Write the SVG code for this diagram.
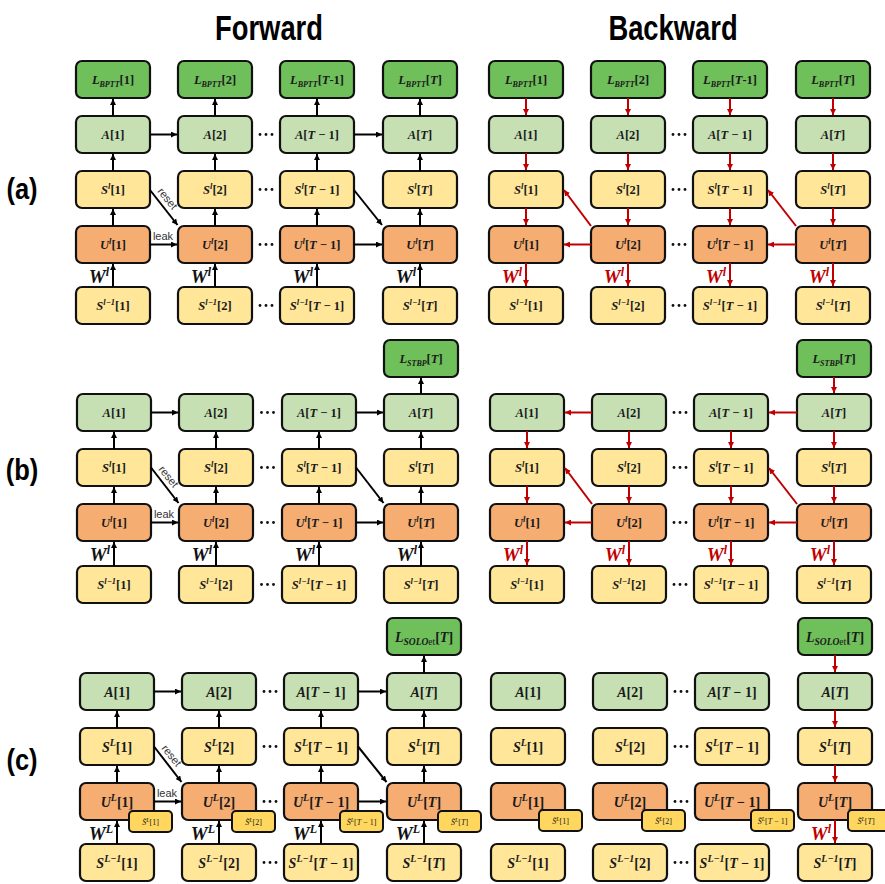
<svg xmlns="http://www.w3.org/2000/svg" xmlns:xlink="http://www.w3.org/1999/xlink" width="885" height="884" viewBox="0 0 885 884">
<style>
.L{fill:#6fbf5b;stroke:#111;stroke-width:2.2}
.A{fill:#c6e0b4;stroke:#111;stroke-width:2.2}
.S{fill:#ffe699;stroke:#111;stroke-width:2.2}
.U{fill:#f5ad72;stroke:#111;stroke-width:2.2}
.M{fill:#ffd75e;stroke:#111;stroke-width:2}
.t{font-family:"Liberation Serif","DejaVu Serif",serif;font-weight:bold;font-size:12.5px;text-anchor:middle;fill:#1a1a1a}
.tc{font-size:14px}
.ts{font-size:8px;font-weight:normal}
.i{font-style:italic}
.s{font-size:8px;font-style:italic}
.p{font-size:8.5px;font-style:italic}
.sc{font-size:9.5px;font-style:italic}
.pc{font-size:10px;font-style:italic}
.q{font-size:6px;font-style:italic}
.n{font-style:normal;font-weight:normal}
.k{stroke:#000;stroke-width:2;fill:none;marker-end:url(#hk)}
.r{stroke:#c00000;stroke-width:2;fill:none;marker-end:url(#hr)}
.w{font-family:"Liberation Serif","DejaVu Serif",serif;font-weight:bold;font-style:italic;font-size:19px;text-anchor:end;fill:#111}
.wr{fill:#c00000}
.sw{font-size:12px}
.lab{font-family:"Liberation Sans",Arial,sans-serif;font-size:11px;fill:#333;text-anchor:middle}
.h{font-family:"Liberation Sans",Arial,sans-serif;font-weight:bold;text-anchor:middle;fill:#000}
.dt{fill:#111}
</style>
<defs>
<marker id="hk" viewBox="0 0 10 10" refX="10" refY="5" markerWidth="6" markerHeight="6" markerUnits="userSpaceOnUse" orient="auto"><path d="M0,0L10,5L0,10z" fill="#000"/></marker>
<marker id="hr" viewBox="0 0 10 10" refX="10" refY="5" markerWidth="6" markerHeight="6" markerUnits="userSpaceOnUse" orient="auto"><path d="M0,0L10,5L0,10z" fill="#c00000"/></marker>
<g id="dd" class="dt"><circle cx="-6" cy="0" r="1.4"/><circle cx="0" cy="0" r="1.4"/><circle cx="6" cy="0" r="1.4"/></g>
</defs>
<rect width="885" height="884" fill="#fff"/>

<g id="titles">
<text class="h" font-size="36" transform="translate(269,40) scale(0.76,1)">Forward</text>
<text class="h" font-size="36" transform="translate(673,40) scale(0.76,1)">Backward</text>
<text class="h" font-size="30" transform="translate(22,199) scale(0.85,1)">(a)</text>
<text class="h" font-size="30" transform="translate(22,480) scale(0.85,1)">(b)</text>
<text class="h" font-size="30" transform="translate(22,770) scale(0.85,1)">(c)</text>
</g>

<!-- ===== (a) forward ===== -->
<g id="af-L1"><rect class="L" x="76" y="61" width="74" height="37" rx="6"/><text class="t" x="113" y="84"><tspan class="i">L</tspan><tspan class="s" dy="3">BPTT</tspan><tspan dy="-3">[1]</tspan></text></g>
<g id="af-L2"><rect class="L" x="178" y="61" width="74" height="37" rx="6"/><text class="t" x="215" y="84"><tspan class="i">L</tspan><tspan class="s" dy="3">BPTT</tspan><tspan dy="-3">[2]</tspan></text></g>
<g id="af-L3"><rect class="L" x="280" y="61" width="74" height="37" rx="6"/><text class="t" x="317" y="84"><tspan class="i">L</tspan><tspan class="s" dy="3">BPTT</tspan><tspan dy="-3">[<tspan class="i">T</tspan>-1]</tspan></text></g>
<g id="af-L4"><rect class="L" x="383" y="61" width="74" height="37" rx="6"/><text class="t" x="420" y="84"><tspan class="i">L</tspan><tspan class="s" dy="3">BPTT</tspan><tspan dy="-3">[<tspan class="i">T</tspan>]</tspan></text></g>
<g id="af-A1"><rect class="A" x="76" y="116" width="74" height="37" rx="6"/><text class="t" x="113" y="139"><tspan class="i">A</tspan>[1]</text></g>
<g id="af-A2"><rect class="A" x="178" y="116" width="74" height="37" rx="6"/><text class="t" x="215" y="139"><tspan class="i">A</tspan>[2]</text></g>
<g id="af-A3"><rect class="A" x="280" y="116" width="74" height="37" rx="6"/><text class="t" x="317" y="139"><tspan class="i">A</tspan>[<tspan class="i">T</tspan> − 1]</text></g>
<g id="af-A4"><rect class="A" x="383" y="116" width="74" height="37" rx="6"/><text class="t" x="420" y="139"><tspan class="i">A</tspan>[<tspan class="i">T</tspan>]</text></g>
<g id="af-S1"><rect class="S" x="76" y="171" width="74" height="37" rx="6"/><text class="t" x="113" y="194"><tspan class="i">S</tspan><tspan class="p" dy="-5">l</tspan><tspan dy="5">[1]</tspan></text></g>
<g id="af-S2"><rect class="S" x="178" y="171" width="74" height="37" rx="6"/><text class="t" x="215" y="194"><tspan class="i">S</tspan><tspan class="p" dy="-5">l</tspan><tspan dy="5">[2]</tspan></text></g>
<g id="af-S3"><rect class="S" x="280" y="171" width="74" height="37" rx="6"/><text class="t" x="317" y="194"><tspan class="i">S</tspan><tspan class="p" dy="-5">l</tspan><tspan dy="5">[<tspan class="i">T</tspan> − 1]</tspan></text></g>
<g id="af-S4"><rect class="S" x="383" y="171" width="74" height="37" rx="6"/><text class="t" x="420" y="194"><tspan class="i">S</tspan><tspan class="p" dy="-5">l</tspan><tspan dy="5">[<tspan class="i">T</tspan>]</tspan></text></g>
<g id="af-U1"><rect class="U" x="76" y="226" width="74" height="37" rx="6"/><text class="t" x="113" y="249"><tspan class="i">U</tspan><tspan class="p" dy="-5">l</tspan><tspan dy="5">[1]</tspan></text></g>
<g id="af-U2"><rect class="U" x="178" y="226" width="74" height="37" rx="6"/><text class="t" x="215" y="249"><tspan class="i">U</tspan><tspan class="p" dy="-5">l</tspan><tspan dy="5">[2]</tspan></text></g>
<g id="af-U3"><rect class="U" x="280" y="226" width="74" height="37" rx="6"/><text class="t" x="317" y="249"><tspan class="i">U</tspan><tspan class="p" dy="-5">l</tspan><tspan dy="5">[<tspan class="i">T</tspan> − 1]</tspan></text></g>
<g id="af-U4"><rect class="U" x="383" y="226" width="74" height="37" rx="6"/><text class="t" x="420" y="249"><tspan class="i">U</tspan><tspan class="p" dy="-5">l</tspan><tspan dy="5">[<tspan class="i">T</tspan>]</tspan></text></g>
<g id="af-P1"><rect class="S" x="76" y="287" width="74" height="37" rx="6"/><text class="t" x="113" y="310"><tspan class="i">S</tspan><tspan class="p" dy="-5">l−1</tspan><tspan dy="5">[1]</tspan></text></g>
<g id="af-P2"><rect class="S" x="178" y="287" width="74" height="37" rx="6"/><text class="t" x="215" y="310"><tspan class="i">S</tspan><tspan class="p" dy="-5">l−1</tspan><tspan dy="5">[2]</tspan></text></g>
<g id="af-P3"><rect class="S" x="280" y="287" width="74" height="37" rx="6"/><text class="t" x="317" y="310"><tspan class="i">S</tspan><tspan class="p" dy="-5">l−1</tspan><tspan dy="5">[<tspan class="i">T</tspan> − 1]</tspan></text></g>
<g id="af-P4"><rect class="S" x="383" y="287" width="74" height="37" rx="6"/><text class="t" x="420" y="310"><tspan class="i">S</tspan><tspan class="p" dy="-5">l−1</tspan><tspan dy="5">[<tspan class="i">T</tspan>]</tspan></text></g>

<!-- ===== (a) backward ===== -->
<g id="ab-L1"><rect class="L" x="489" y="61" width="74" height="37" rx="6"/><text class="t" x="526" y="84"><tspan class="i">L</tspan><tspan class="s" dy="3">BPTT</tspan><tspan dy="-3">[1]</tspan></text></g>
<g id="ab-L2"><rect class="L" x="591" y="61" width="74" height="37" rx="6"/><text class="t" x="628" y="84"><tspan class="i">L</tspan><tspan class="s" dy="3">BPTT</tspan><tspan dy="-3">[2]</tspan></text></g>
<g id="ab-L3"><rect class="L" x="693" y="61" width="74" height="37" rx="6"/><text class="t" x="730" y="84"><tspan class="i">L</tspan><tspan class="s" dy="3">BPTT</tspan><tspan dy="-3">[<tspan class="i">T</tspan>-1]</tspan></text></g>
<g id="ab-L4"><rect class="L" x="796" y="61" width="74" height="37" rx="6"/><text class="t" x="833" y="84"><tspan class="i">L</tspan><tspan class="s" dy="3">BPTT</tspan><tspan dy="-3">[<tspan class="i">T</tspan>]</tspan></text></g>
<g id="ab-A1"><rect class="A" x="489" y="116" width="74" height="37" rx="6"/><text class="t" x="526" y="139"><tspan class="i">A</tspan>[1]</text></g>
<g id="ab-A2"><rect class="A" x="591" y="116" width="74" height="37" rx="6"/><text class="t" x="628" y="139"><tspan class="i">A</tspan>[2]</text></g>
<g id="ab-A3"><rect class="A" x="693" y="116" width="74" height="37" rx="6"/><text class="t" x="730" y="139"><tspan class="i">A</tspan>[<tspan class="i">T</tspan> − 1]</text></g>
<g id="ab-A4"><rect class="A" x="796" y="116" width="74" height="37" rx="6"/><text class="t" x="833" y="139"><tspan class="i">A</tspan>[<tspan class="i">T</tspan>]</text></g>
<g id="ab-S1"><rect class="S" x="489" y="171" width="74" height="37" rx="6"/><text class="t" x="526" y="194"><tspan class="i">S</tspan><tspan class="p" dy="-5">l</tspan><tspan dy="5">[1]</tspan></text></g>
<g id="ab-S2"><rect class="S" x="591" y="171" width="74" height="37" rx="6"/><text class="t" x="628" y="194"><tspan class="i">S</tspan><tspan class="p" dy="-5">l</tspan><tspan dy="5">[2]</tspan></text></g>
<g id="ab-S3"><rect class="S" x="693" y="171" width="74" height="37" rx="6"/><text class="t" x="730" y="194"><tspan class="i">S</tspan><tspan class="p" dy="-5">l</tspan><tspan dy="5">[<tspan class="i">T</tspan> − 1]</tspan></text></g>
<g id="ab-S4"><rect class="S" x="796" y="171" width="74" height="37" rx="6"/><text class="t" x="833" y="194"><tspan class="i">S</tspan><tspan class="p" dy="-5">l</tspan><tspan dy="5">[<tspan class="i">T</tspan>]</tspan></text></g>
<g id="ab-U1"><rect class="U" x="489" y="226" width="74" height="37" rx="6"/><text class="t" x="526" y="249"><tspan class="i">U</tspan><tspan class="p" dy="-5">l</tspan><tspan dy="5">[1]</tspan></text></g>
<g id="ab-U2"><rect class="U" x="591" y="226" width="74" height="37" rx="6"/><text class="t" x="628" y="249"><tspan class="i">U</tspan><tspan class="p" dy="-5">l</tspan><tspan dy="5">[2]</tspan></text></g>
<g id="ab-U3"><rect class="U" x="693" y="226" width="74" height="37" rx="6"/><text class="t" x="730" y="249"><tspan class="i">U</tspan><tspan class="p" dy="-5">l</tspan><tspan dy="5">[<tspan class="i">T</tspan> − 1]</tspan></text></g>
<g id="ab-U4"><rect class="U" x="796" y="226" width="74" height="37" rx="6"/><text class="t" x="833" y="249"><tspan class="i">U</tspan><tspan class="p" dy="-5">l</tspan><tspan dy="5">[<tspan class="i">T</tspan>]</tspan></text></g>
<g id="ab-P1"><rect class="S" x="489" y="287" width="74" height="37" rx="6"/><text class="t" x="526" y="310"><tspan class="i">S</tspan><tspan class="p" dy="-5">l−1</tspan><tspan dy="5">[1]</tspan></text></g>
<g id="ab-P2"><rect class="S" x="591" y="287" width="74" height="37" rx="6"/><text class="t" x="628" y="310"><tspan class="i">S</tspan><tspan class="p" dy="-5">l−1</tspan><tspan dy="5">[2]</tspan></text></g>
<g id="ab-P3"><rect class="S" x="693" y="287" width="74" height="37" rx="6"/><text class="t" x="730" y="310"><tspan class="i">S</tspan><tspan class="p" dy="-5">l−1</tspan><tspan dy="5">[<tspan class="i">T</tspan> − 1]</tspan></text></g>
<g id="ab-P4"><rect class="S" x="796" y="287" width="74" height="37" rx="6"/><text class="t" x="833" y="310"><tspan class="i">S</tspan><tspan class="p" dy="-5">l−1</tspan><tspan dy="5">[<tspan class="i">T</tspan>]</tspan></text></g>

<!-- ===== (b) forward ===== -->
<g id="bf-L4"><rect class="L" x="384" y="340" width="74" height="37" rx="6"/><text class="t" x="421" y="363"><tspan class="i">L</tspan><tspan class="s" dy="3">STBP</tspan><tspan dy="-3">[<tspan class="i">T</tspan>]</tspan></text></g>
<g id="bf-A1"><rect class="A" x="77" y="394" width="74" height="37" rx="6"/><text class="t" x="114" y="417"><tspan class="i">A</tspan>[1]</text></g>
<g id="bf-A2"><rect class="A" x="179" y="394" width="74" height="37" rx="6"/><text class="t" x="216" y="417"><tspan class="i">A</tspan>[2]</text></g>
<g id="bf-A3"><rect class="A" x="282" y="394" width="74" height="37" rx="6"/><text class="t" x="319" y="417"><tspan class="i">A</tspan>[<tspan class="i">T</tspan> − 1]</text></g>
<g id="bf-A4"><rect class="A" x="384" y="394" width="74" height="37" rx="6"/><text class="t" x="421" y="417"><tspan class="i">A</tspan>[<tspan class="i">T</tspan>]</text></g>
<g id="bf-S1"><rect class="S" x="77" y="449" width="74" height="37" rx="6"/><text class="t" x="114" y="472"><tspan class="i">S</tspan><tspan class="p" dy="-5">l</tspan><tspan dy="5">[1]</tspan></text></g>
<g id="bf-S2"><rect class="S" x="179" y="449" width="74" height="37" rx="6"/><text class="t" x="216" y="472"><tspan class="i">S</tspan><tspan class="p" dy="-5">l</tspan><tspan dy="5">[2]</tspan></text></g>
<g id="bf-S3"><rect class="S" x="282" y="449" width="74" height="37" rx="6"/><text class="t" x="319" y="472"><tspan class="i">S</tspan><tspan class="p" dy="-5">l</tspan><tspan dy="5">[<tspan class="i">T</tspan> − 1]</tspan></text></g>
<g id="bf-S4"><rect class="S" x="384" y="449" width="74" height="37" rx="6"/><text class="t" x="421" y="472"><tspan class="i">S</tspan><tspan class="p" dy="-5">l</tspan><tspan dy="5">[<tspan class="i">T</tspan>]</tspan></text></g>
<g id="bf-U1"><rect class="U" x="77" y="504" width="74" height="37" rx="6"/><text class="t" x="114" y="527"><tspan class="i">U</tspan><tspan class="p" dy="-5">l</tspan><tspan dy="5">[1]</tspan></text></g>
<g id="bf-U2"><rect class="U" x="179" y="504" width="74" height="37" rx="6"/><text class="t" x="216" y="527"><tspan class="i">U</tspan><tspan class="p" dy="-5">l</tspan><tspan dy="5">[2]</tspan></text></g>
<g id="bf-U3"><rect class="U" x="282" y="504" width="74" height="37" rx="6"/><text class="t" x="319" y="527"><tspan class="i">U</tspan><tspan class="p" dy="-5">l</tspan><tspan dy="5">[<tspan class="i">T</tspan> − 1]</tspan></text></g>
<g id="bf-U4"><rect class="U" x="384" y="504" width="74" height="37" rx="6"/><text class="t" x="421" y="527"><tspan class="i">U</tspan><tspan class="p" dy="-5">l</tspan><tspan dy="5">[<tspan class="i">T</tspan>]</tspan></text></g>
<g id="bf-P1"><rect class="S" x="77" y="566" width="74" height="37" rx="6"/><text class="t" x="114" y="589"><tspan class="i">S</tspan><tspan class="p" dy="-5">l−1</tspan><tspan dy="5">[1]</tspan></text></g>
<g id="bf-P2"><rect class="S" x="179" y="566" width="74" height="37" rx="6"/><text class="t" x="216" y="589"><tspan class="i">S</tspan><tspan class="p" dy="-5">l−1</tspan><tspan dy="5">[2]</tspan></text></g>
<g id="bf-P3"><rect class="S" x="282" y="566" width="74" height="37" rx="6"/><text class="t" x="319" y="589"><tspan class="i">S</tspan><tspan class="p" dy="-5">l−1</tspan><tspan dy="5">[<tspan class="i">T</tspan> − 1]</tspan></text></g>
<g id="bf-P4"><rect class="S" x="384" y="566" width="74" height="37" rx="6"/><text class="t" x="421" y="589"><tspan class="i">S</tspan><tspan class="p" dy="-5">l−1</tspan><tspan dy="5">[<tspan class="i">T</tspan>]</tspan></text></g>

<!-- ===== (b) backward ===== -->
<g id="bb-L4"><rect class="L" x="797" y="340" width="74" height="37" rx="6"/><text class="t" x="834" y="363"><tspan class="i">L</tspan><tspan class="s" dy="3">STBP</tspan><tspan dy="-3">[<tspan class="i">T</tspan>]</tspan></text></g>
<g id="bb-A1"><rect class="A" x="490" y="394" width="74" height="37" rx="6"/><text class="t" x="527" y="417"><tspan class="i">A</tspan>[1]</text></g>
<g id="bb-A2"><rect class="A" x="592" y="394" width="74" height="37" rx="6"/><text class="t" x="629" y="417"><tspan class="i">A</tspan>[2]</text></g>
<g id="bb-A3"><rect class="A" x="694" y="394" width="74" height="37" rx="6"/><text class="t" x="731" y="417"><tspan class="i">A</tspan>[<tspan class="i">T</tspan> − 1]</text></g>
<g id="bb-A4"><rect class="A" x="797" y="394" width="74" height="37" rx="6"/><text class="t" x="834" y="417"><tspan class="i">A</tspan>[<tspan class="i">T</tspan>]</text></g>
<g id="bb-S1"><rect class="S" x="490" y="449" width="74" height="37" rx="6"/><text class="t" x="527" y="472"><tspan class="i">S</tspan><tspan class="p" dy="-5">l</tspan><tspan dy="5">[1]</tspan></text></g>
<g id="bb-S2"><rect class="S" x="592" y="449" width="74" height="37" rx="6"/><text class="t" x="629" y="472"><tspan class="i">S</tspan><tspan class="p" dy="-5">l</tspan><tspan dy="5">[2]</tspan></text></g>
<g id="bb-S3"><rect class="S" x="694" y="449" width="74" height="37" rx="6"/><text class="t" x="731" y="472"><tspan class="i">S</tspan><tspan class="p" dy="-5">l</tspan><tspan dy="5">[<tspan class="i">T</tspan> − 1]</tspan></text></g>
<g id="bb-S4"><rect class="S" x="797" y="449" width="74" height="37" rx="6"/><text class="t" x="834" y="472"><tspan class="i">S</tspan><tspan class="p" dy="-5">l</tspan><tspan dy="5">[<tspan class="i">T</tspan>]</tspan></text></g>
<g id="bb-U1"><rect class="U" x="490" y="504" width="74" height="37" rx="6"/><text class="t" x="527" y="527"><tspan class="i">U</tspan><tspan class="p" dy="-5">l</tspan><tspan dy="5">[1]</tspan></text></g>
<g id="bb-U2"><rect class="U" x="592" y="504" width="74" height="37" rx="6"/><text class="t" x="629" y="527"><tspan class="i">U</tspan><tspan class="p" dy="-5">l</tspan><tspan dy="5">[2]</tspan></text></g>
<g id="bb-U3"><rect class="U" x="694" y="504" width="74" height="37" rx="6"/><text class="t" x="731" y="527"><tspan class="i">U</tspan><tspan class="p" dy="-5">l</tspan><tspan dy="5">[<tspan class="i">T</tspan> − 1]</tspan></text></g>
<g id="bb-U4"><rect class="U" x="797" y="504" width="74" height="37" rx="6"/><text class="t" x="834" y="527"><tspan class="i">U</tspan><tspan class="p" dy="-5">l</tspan><tspan dy="5">[<tspan class="i">T</tspan>]</tspan></text></g>
<g id="bb-P1"><rect class="S" x="490" y="566" width="74" height="37" rx="6"/><text class="t" x="527" y="589"><tspan class="i">S</tspan><tspan class="p" dy="-5">l−1</tspan><tspan dy="5">[1]</tspan></text></g>
<g id="bb-P2"><rect class="S" x="592" y="566" width="74" height="37" rx="6"/><text class="t" x="629" y="589"><tspan class="i">S</tspan><tspan class="p" dy="-5">l−1</tspan><tspan dy="5">[2]</tspan></text></g>
<g id="bb-P3"><rect class="S" x="694" y="566" width="74" height="37" rx="6"/><text class="t" x="731" y="589"><tspan class="i">S</tspan><tspan class="p" dy="-5">l−1</tspan><tspan dy="5">[<tspan class="i">T</tspan> − 1]</tspan></text></g>
<g id="bb-P4"><rect class="S" x="797" y="566" width="74" height="37" rx="6"/><text class="t" x="834" y="589"><tspan class="i">S</tspan><tspan class="p" dy="-5">l−1</tspan><tspan dy="5">[<tspan class="i">T</tspan>]</tspan></text></g>

<!-- ===== (c) forward ===== -->
<g id="cf-L4"><rect class="L" x="387" y="618" width="74" height="37" rx="6"/><text class="t tc" x="424" y="642"><tspan class="i">L</tspan><tspan class="sc" dy="3">SOLO<tspan class="n">et</tspan></tspan><tspan dy="-3">[<tspan class="i">T</tspan>]</tspan></text></g>
<g id="cf-A1"><rect class="A" x="80" y="673" width="74" height="37" rx="6"/><text class="t tc" x="117" y="697"><tspan class="i">A</tspan>[1]</text></g>
<g id="cf-A2"><rect class="A" x="182" y="673" width="74" height="37" rx="6"/><text class="t tc" x="219" y="697"><tspan class="i">A</tspan>[2]</text></g>
<g id="cf-A3"><rect class="A" x="284" y="673" width="74" height="37" rx="6"/><text class="t tc" x="321" y="697"><tspan class="i">A</tspan>[<tspan class="i">T</tspan> − 1]</text></g>
<g id="cf-A4"><rect class="A" x="387" y="673" width="74" height="37" rx="6"/><text class="t tc" x="424" y="697"><tspan class="i">A</tspan>[<tspan class="i">T</tspan>]</text></g>
<g id="cf-S1"><rect class="S" x="80" y="728" width="74" height="37" rx="6"/><text class="t tc" x="117" y="752"><tspan class="i">S</tspan><tspan class="pc" dy="-6">L</tspan><tspan dy="6">[1]</tspan></text></g>
<g id="cf-S2"><rect class="S" x="182" y="728" width="74" height="37" rx="6"/><text class="t tc" x="219" y="752"><tspan class="i">S</tspan><tspan class="pc" dy="-6">L</tspan><tspan dy="6">[2]</tspan></text></g>
<g id="cf-S3"><rect class="S" x="284" y="728" width="74" height="37" rx="6"/><text class="t tc" x="321" y="752"><tspan class="i">S</tspan><tspan class="pc" dy="-6">L</tspan><tspan dy="6">[<tspan class="i">T</tspan> − 1]</tspan></text></g>
<g id="cf-S4"><rect class="S" x="387" y="728" width="74" height="37" rx="6"/><text class="t tc" x="424" y="752"><tspan class="i">S</tspan><tspan class="pc" dy="-6">L</tspan><tspan dy="6">[<tspan class="i">T</tspan>]</tspan></text></g>
<g id="cf-U1"><rect class="U" x="80" y="783" width="74" height="37" rx="6"/><text class="t tc" x="117" y="807"><tspan class="i">U</tspan><tspan class="pc" dy="-6">L</tspan><tspan dy="6">[1]</tspan></text></g>
<g id="cf-U2"><rect class="U" x="182" y="783" width="74" height="37" rx="6"/><text class="t tc" x="219" y="807"><tspan class="i">U</tspan><tspan class="pc" dy="-6">L</tspan><tspan dy="6">[2]</tspan></text></g>
<g id="cf-U3"><rect class="U" x="284" y="783" width="74" height="37" rx="6"/><text class="t tc" x="321" y="807"><tspan class="i">U</tspan><tspan class="pc" dy="-6">L</tspan><tspan dy="6">[<tspan class="i">T</tspan> − 1]</tspan></text></g>
<g id="cf-U4"><rect class="U" x="387" y="783" width="74" height="37" rx="6"/><text class="t tc" x="424" y="807"><tspan class="i">U</tspan><tspan class="pc" dy="-6">L</tspan><tspan dy="6">[<tspan class="i">T</tspan>]</tspan></text></g>
<g id="cf-M1"><rect class="M" x="129" y="811" width="43" height="21" rx="4"/><text class="t ts" x="150.5" y="825"><tspan class="i">S̃</tspan><tspan class="q" dy="-3">L</tspan><tspan dy="3">[1]</tspan></text></g>
<g id="cf-M2"><rect class="M" x="232" y="811" width="43" height="21" rx="4"/><text class="t ts" x="253.5" y="825"><tspan class="i">S̃</tspan><tspan class="q" dy="-3">L</tspan><tspan dy="3">[2]</tspan></text></g>
<g id="cf-M3"><rect class="M" x="340" y="811" width="43" height="21" rx="4"/><text class="t ts" x="361.5" y="825"><tspan class="i">S̃</tspan><tspan class="q" dy="-3">L</tspan><tspan dy="3">[<tspan class="i">T</tspan> − 1]</tspan></text></g>
<g id="cf-M4"><rect class="M" x="438" y="811" width="43" height="21" rx="4"/><text class="t ts" x="459.5" y="825"><tspan class="i">S̃</tspan><tspan class="q" dy="-3">L</tspan><tspan dy="3">[<tspan class="i">T</tspan>]</tspan></text></g>
<g id="cf-P1"><rect class="S" x="80" y="844" width="74" height="37" rx="6"/><text class="t tc" x="117" y="868"><tspan class="i">S</tspan><tspan class="pc" dy="-6">L−1</tspan><tspan dy="6">[1]</tspan></text></g>
<g id="cf-P2"><rect class="S" x="182" y="844" width="74" height="37" rx="6"/><text class="t tc" x="219" y="868"><tspan class="i">S</tspan><tspan class="pc" dy="-6">L−1</tspan><tspan dy="6">[2]</tspan></text></g>
<g id="cf-P3"><rect class="S" x="284" y="844" width="74" height="37" rx="6"/><text class="t tc" x="321" y="868"><tspan class="i">S</tspan><tspan class="pc" dy="-6">L−1</tspan><tspan dy="6">[<tspan class="i">T</tspan> − 1]</tspan></text></g>
<g id="cf-P4"><rect class="S" x="387" y="844" width="74" height="37" rx="6"/><text class="t tc" x="424" y="868"><tspan class="i">S</tspan><tspan class="pc" dy="-6">L−1</tspan><tspan dy="6">[<tspan class="i">T</tspan>]</tspan></text></g>

<!-- ===== (c) backward ===== -->
<g id="cb-L4"><rect class="L" x="798" y="618" width="74" height="37" rx="6"/><text class="t tc" x="835" y="642"><tspan class="i">L</tspan><tspan class="sc" dy="3">SOLO<tspan class="n">et</tspan></tspan><tspan dy="-3">[<tspan class="i">T</tspan>]</tspan></text></g>
<g id="cb-A1"><rect class="A" x="491" y="673" width="74" height="37" rx="6"/><text class="t tc" x="528" y="697"><tspan class="i">A</tspan>[1]</text></g>
<g id="cb-A2"><rect class="A" x="593" y="673" width="74" height="37" rx="6"/><text class="t tc" x="630" y="697"><tspan class="i">A</tspan>[2]</text></g>
<g id="cb-A3"><rect class="A" x="695" y="673" width="74" height="37" rx="6"/><text class="t tc" x="732" y="697"><tspan class="i">A</tspan>[<tspan class="i">T</tspan> − 1]</text></g>
<g id="cb-A4"><rect class="A" x="798" y="673" width="74" height="37" rx="6"/><text class="t tc" x="835" y="697"><tspan class="i">A</tspan>[<tspan class="i">T</tspan>]</text></g>
<g id="cb-S1"><rect class="S" x="491" y="728" width="74" height="37" rx="6"/><text class="t tc" x="528" y="752"><tspan class="i">S</tspan><tspan class="pc" dy="-6">L</tspan><tspan dy="6">[1]</tspan></text></g>
<g id="cb-S2"><rect class="S" x="593" y="728" width="74" height="37" rx="6"/><text class="t tc" x="630" y="752"><tspan class="i">S</tspan><tspan class="pc" dy="-6">L</tspan><tspan dy="6">[2]</tspan></text></g>
<g id="cb-S3"><rect class="S" x="695" y="728" width="74" height="37" rx="6"/><text class="t tc" x="732" y="752"><tspan class="i">S</tspan><tspan class="pc" dy="-6">L</tspan><tspan dy="6">[<tspan class="i">T</tspan> − 1]</tspan></text></g>
<g id="cb-S4"><rect class="S" x="798" y="728" width="74" height="37" rx="6"/><text class="t tc" x="835" y="752"><tspan class="i">S</tspan><tspan class="pc" dy="-6">L</tspan><tspan dy="6">[<tspan class="i">T</tspan>]</tspan></text></g>
<g id="cb-U1"><rect class="U" x="491" y="783" width="74" height="37" rx="6"/><text class="t tc" x="528" y="807"><tspan class="i">U</tspan><tspan class="pc" dy="-6">L</tspan><tspan dy="6">[1]</tspan></text></g>
<g id="cb-U2"><rect class="U" x="593" y="783" width="74" height="37" rx="6"/><text class="t tc" x="630" y="807"><tspan class="i">U</tspan><tspan class="pc" dy="-6">L</tspan><tspan dy="6">[2]</tspan></text></g>
<g id="cb-U3"><rect class="U" x="695" y="783" width="74" height="37" rx="6"/><text class="t tc" x="732" y="807"><tspan class="i">U</tspan><tspan class="pc" dy="-6">L</tspan><tspan dy="6">[<tspan class="i">T</tspan> − 1]</tspan></text></g>
<g id="cb-U4"><rect class="U" x="798" y="783" width="74" height="37" rx="6"/><text class="t tc" x="835" y="807"><tspan class="i">U</tspan><tspan class="pc" dy="-6">L</tspan><tspan dy="6">[<tspan class="i">T</tspan>]</tspan></text></g>
<g id="cb-M1"><rect class="M" x="539" y="810" width="43" height="21" rx="4"/><text class="t ts" x="560.5" y="824"><tspan class="i">S̃</tspan><tspan class="q" dy="-3">L</tspan><tspan dy="3">[1]</tspan></text></g>
<g id="cb-M2"><rect class="M" x="642" y="810" width="43" height="21" rx="4"/><text class="t ts" x="663.5" y="824"><tspan class="i">S̃</tspan><tspan class="q" dy="-3">L</tspan><tspan dy="3">[2]</tspan></text></g>
<g id="cb-M3"><rect class="M" x="751" y="810" width="43" height="21" rx="4"/><text class="t ts" x="772.5" y="824"><tspan class="i">S̃</tspan><tspan class="q" dy="-3">L</tspan><tspan dy="3">[<tspan class="i">T</tspan> − 1]</tspan></text></g>
<g id="cb-M4"><rect class="M" x="848" y="810" width="43" height="21" rx="4"/><text class="t ts" x="866" y="824"><tspan class="i">S̃</tspan><tspan class="q" dy="-3">L</tspan><tspan dy="3">[<tspan class="i">T</tspan>]</tspan></text></g>
<g id="cb-P1"><rect class="S" x="491" y="844" width="74" height="37" rx="6"/><text class="t tc" x="528" y="868"><tspan class="i">S</tspan><tspan class="pc" dy="-6">L−1</tspan><tspan dy="6">[1]</tspan></text></g>
<g id="cb-P2"><rect class="S" x="593" y="844" width="74" height="37" rx="6"/><text class="t tc" x="630" y="868"><tspan class="i">S</tspan><tspan class="pc" dy="-6">L−1</tspan><tspan dy="6">[2]</tspan></text></g>
<g id="cb-P3"><rect class="S" x="695" y="844" width="74" height="37" rx="6"/><text class="t tc" x="732" y="868"><tspan class="i">S</tspan><tspan class="pc" dy="-6">L−1</tspan><tspan dy="6">[<tspan class="i">T</tspan> − 1]</tspan></text></g>
<g id="cb-P4"><rect class="S" x="798" y="844" width="74" height="37" rx="6"/><text class="t tc" x="835" y="868"><tspan class="i">S</tspan><tspan class="pc" dy="-6">L−1</tspan><tspan dy="6">[<tspan class="i">T</tspan>]</tspan></text></g>

<!-- ellipsis dots -->
<g id="dots">
<use xlink:href="#dd" x="266" y="134.5"/><use xlink:href="#dd" x="266" y="189.5"/><use xlink:href="#dd" x="266" y="244.5"/><use xlink:href="#dd" x="266" y="305.5"/>
<use xlink:href="#dd" x="679" y="134.5"/><use xlink:href="#dd" x="679" y="189.5"/><use xlink:href="#dd" x="679" y="244.5"/><use xlink:href="#dd" x="679" y="305.5"/>
<use xlink:href="#dd" x="267.5" y="412.5"/><use xlink:href="#dd" x="267.5" y="467.5"/><use xlink:href="#dd" x="267.5" y="522.5"/><use xlink:href="#dd" x="267.5" y="584.5"/>
<use xlink:href="#dd" x="680" y="412.5"/><use xlink:href="#dd" x="680" y="467.5"/><use xlink:href="#dd" x="680" y="522.5"/><use xlink:href="#dd" x="680" y="584.5"/>
<use xlink:href="#dd" x="270" y="691.5"/><use xlink:href="#dd" x="270" y="746.5"/><use xlink:href="#dd" x="270" y="801.5"/><use xlink:href="#dd" x="270" y="862.5"/>
<use xlink:href="#dd" x="681" y="691.5"/><use xlink:href="#dd" x="681" y="746.5"/><use xlink:href="#dd" x="681" y="801.5"/><use xlink:href="#dd" x="681" y="862.5"/>
</g>

<g id="connectors">
<!-- (a) forward -->
<path class="k" d="M113 287V264"/><path class="k" d="M215 287V264"/><path class="k" d="M317 287V264"/><path class="k" d="M420 287V264"/>
<path class="k" d="M113 226V209"/><path class="k" d="M215 226V209"/><path class="k" d="M317 226V209"/><path class="k" d="M420 226V209"/>
<path class="k" d="M113 171V154"/><path class="k" d="M215 171V154"/><path class="k" d="M317 171V154"/><path class="k" d="M420 171V154"/>
<path class="k" d="M113 116V99"/><path class="k" d="M215 116V99"/><path class="k" d="M317 116V99"/><path class="k" d="M420 116V99"/>
<path class="k" d="M150 134.5H177"/><path class="k" d="M354 134.5H382"/>
<path class="k" d="M150 244.5H177"/><path class="k" d="M354 244.5H382"/>
<path class="k" d="M150 190L177.5 225"/><path class="k" d="M354 190L382 225"/>
<!-- (a) backward -->
<path class="r" d="M526 98V115"/><path class="r" d="M628 98V115"/><path class="r" d="M730 98V115"/><path class="r" d="M833 98V115"/>
<path class="r" d="M526 153V170"/><path class="r" d="M628 153V170"/><path class="r" d="M730 153V170"/><path class="r" d="M833 153V170"/>
<path class="r" d="M526 208V225"/><path class="r" d="M628 208V225"/><path class="r" d="M730 208V225"/><path class="r" d="M833 208V225"/>
<path class="r" d="M526 263V286"/><path class="r" d="M628 263V286"/><path class="r" d="M730 263V286"/><path class="r" d="M833 263V286"/>
<path class="r" d="M591 244.5H564"/><path class="r" d="M796 244.5H768"/>
<path class="r" d="M591 226L564 190"/><path class="r" d="M796 226L768 190"/>
<!-- (b) forward -->
<path class="k" d="M114 566V542"/><path class="k" d="M216 566V542"/><path class="k" d="M319 566V542"/><path class="k" d="M421 566V542"/>
<path class="k" d="M114 504V487"/><path class="k" d="M216 504V487"/><path class="k" d="M319 504V487"/><path class="k" d="M421 504V487"/>
<path class="k" d="M114 449V432"/><path class="k" d="M216 449V432"/><path class="k" d="M319 449V432"/><path class="k" d="M421 449V432"/>
<path class="k" d="M421 394V378"/>
<path class="k" d="M151 412.5H178"/><path class="k" d="M356 412.5H383"/>
<path class="k" d="M151 522.5H178"/><path class="k" d="M356 522.5H383"/>
<path class="k" d="M151 467.5L178.5 503"/><path class="k" d="M356 467.5L383.5 503"/>
<!-- (b) backward -->
<path class="r" d="M834 377V393"/>
<path class="r" d="M527 431V448"/><path class="r" d="M629 431V448"/><path class="r" d="M731 431V448"/><path class="r" d="M834 431V448"/>
<path class="r" d="M527 486V503"/><path class="r" d="M629 486V503"/><path class="r" d="M731 486V503"/><path class="r" d="M834 486V503"/>
<path class="r" d="M527 541V565"/><path class="r" d="M629 541V565"/><path class="r" d="M731 541V565"/><path class="r" d="M834 541V565"/>
<path class="r" d="M592 412.5H565"/><path class="r" d="M797 412.5H769"/>
<path class="r" d="M592 522.5H565"/><path class="r" d="M797 522.5H769"/>
<path class="r" d="M592 504L565 468"/><path class="r" d="M797 504L769 468"/>
<!-- (c) forward -->
<path class="k" d="M117 844V821"/><path class="k" d="M219 844V821"/><path class="k" d="M321 844V821"/><path class="k" d="M424 844V821"/>
<path class="k" d="M117 783V766"/><path class="k" d="M219 783V766"/><path class="k" d="M321 783V766"/><path class="k" d="M424 783V766"/>
<path class="k" d="M117 728V711"/><path class="k" d="M219 728V711"/><path class="k" d="M321 728V711"/><path class="k" d="M424 728V711"/>
<path class="k" d="M424 673V656"/>
<path class="k" d="M154 691.5H181"/><path class="k" d="M358 691.5H386"/>
<path class="k" d="M154 801.5H181"/><path class="k" d="M358 801.5H386"/>
<path class="k" d="M154 746.5L181.5 782"/><path class="k" d="M358 746.5L386.5 782"/>
<!-- (c) backward -->
<path class="r" d="M835 655V672"/><path class="r" d="M835 710V727"/><path class="r" d="M835 765V782"/><path class="r" d="M835 820V843"/>

<!-- connector labels -->
<text class="lab" x="163" y="240">leak</text>
<text class="lab" transform="translate(167,199) rotate(51)" y="3">reset</text>
<text class="lab" x="164" y="518">leak</text>
<text class="lab" transform="translate(168,477) rotate(51)" y="3">reset</text>
<text class="lab" x="167" y="797">leak</text>
<text class="lab" transform="translate(171,756) rotate(51)" y="3">reset</text>

<text class="w" x="109" y="283">W<tspan class="sw" dy="-7">l</tspan></text>
<text class="w" x="211" y="283">W<tspan class="sw" dy="-7">l</tspan></text>
<text class="w" x="313" y="283">W<tspan class="sw" dy="-7">l</tspan></text>
<text class="w" x="416" y="283">W<tspan class="sw" dy="-7">l</tspan></text>
<text class="w wr" x="522" y="283">W<tspan class="sw" dy="-7">l</tspan></text>
<text class="w wr" x="624" y="283">W<tspan class="sw" dy="-7">l</tspan></text>
<text class="w wr" x="726" y="283">W<tspan class="sw" dy="-7">l</tspan></text>
<text class="w wr" x="829" y="283">W<tspan class="sw" dy="-7">l</tspan></text>
<text class="w" x="110" y="561">W<tspan class="sw" dy="-7">l</tspan></text>
<text class="w" x="212" y="561">W<tspan class="sw" dy="-7">l</tspan></text>
<text class="w" x="315" y="561">W<tspan class="sw" dy="-7">l</tspan></text>
<text class="w" x="417" y="561">W<tspan class="sw" dy="-7">l</tspan></text>
<text class="w wr" x="523" y="561">W<tspan class="sw" dy="-7">l</tspan></text>
<text class="w wr" x="625" y="561">W<tspan class="sw" dy="-7">l</tspan></text>
<text class="w wr" x="727" y="561">W<tspan class="sw" dy="-7">l</tspan></text>
<text class="w wr" x="830" y="561">W<tspan class="sw" dy="-7">l</tspan></text>
<text class="w" x="113" y="840">W<tspan class="sw" dy="-7">L</tspan></text>
<text class="w" x="215" y="840">W<tspan class="sw" dy="-7">L</tspan></text>
<text class="w" x="317" y="840">W<tspan class="sw" dy="-7">L</tspan></text>
<text class="w" x="420" y="840">W<tspan class="sw" dy="-7">L</tspan></text>
<text class="w wr" x="831" y="840">W<tspan class="sw" dy="-7">l</tspan></text>
</g>
</svg>
